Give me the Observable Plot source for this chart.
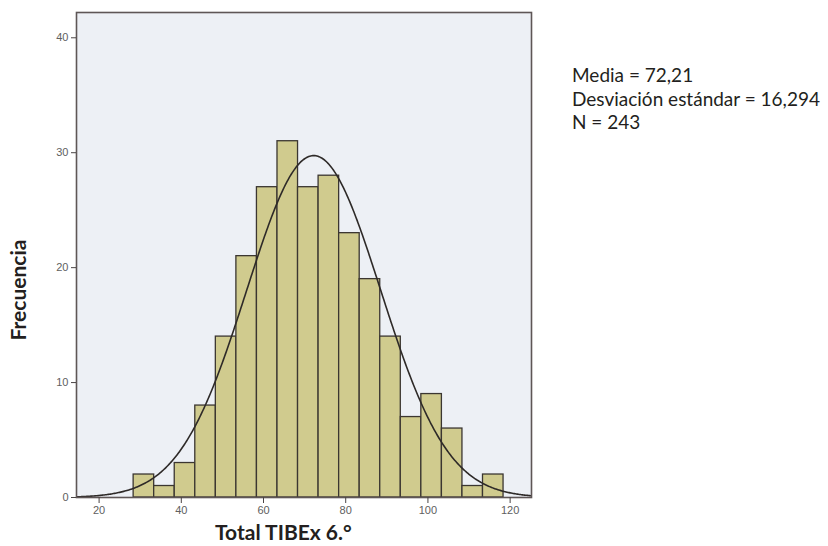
<!DOCTYPE html>
<html>
<head>
<meta charset="utf-8">
<script src="https://cdn.jsdelivr.net/npm/d3@7"></script>
<script src="https://cdn.jsdelivr.net/npm/@observablehq/plot@0.6"></script>
<style>
  html, body { margin: 0; padding: 0; background: #ffffff; }
  #wrap { position: relative; width: 828px; height: 546px; overflow: hidden; }
  #wrap svg { position: absolute; left: 0; top: 0; }
  .lab { position: absolute; font-family: Lato, "Open Sans", sans-serif; color: #231f20; white-space: nowrap; }
  #xlab { left: 215px; top: 519px; font-size: 21px; font-weight: 700; }
  #ylab { left: 17px; top: 290px; font-size: 21px; font-weight: 700; transform: translate(-50%, -50%) rotate(-90deg); }
  #legend { left: 572px; top: 63px; font-size: 19px; line-height: 23.5px; }
</style>
</head>
<body>
<div id="wrap"></div>
<script>
// Histogram bins (lower edges) and counts
const binLow = [28.4, 33.4, 38.4, 43.4, 48.4, 53.4, 58.4, 63.4, 68.4, 73.4, 78.4, 83.4, 88.4, 93.4, 98.4, 103.4, 108.4, 113.4];
const binWidth = 5;
const counts = [2, 1, 3, 8, 14, 21, 27, 31, 27, 28, 23, 19, 14, 7, 9, 6, 1, 2];
// Summary statistics shown in the legend
const statLabels = ["Media", "Desviación estándar", "N"];
const statText = ["72,21", "16,294", "243"];
const mean = 72.21, sd = 16.294, n = 243;
const xTicks = [20, 40, 60, 80, 100, 120];
const yTicks = [0, 10, 20, 30, 40];
const xDomain = [14.5, 125.2];
const yDomain = [0, 42.2];

const bins = binLow.map((lo, i) => ({x1: lo, x2: lo + binWidth, y: counts[i]}));
// Fitted normal curve (from the stated mean, sd and N, scaled to bin width)
const curve = d3.range(xDomain[0], xDomain[1] + 0.01, 0.25).map(x => ({
  x, y: n * binWidth * Math.exp(-0.5 * ((x - mean) / sd) ** 2) / (sd * Math.sqrt(2 * Math.PI))
}));

const chart = Plot.plot({
  width: 828,
  height: 546,
  marginLeft: 76,
  marginTop: 12,
  marginRight: 297,
  marginBottom: 49,
  style: {background: "transparent", fontFamily: "Arial, 'Liberation Sans', sans-serif"},
  x: {domain: xDomain},
  y: {domain: yDomain},
  marks: [
    Plot.frame({fill: "#edf0f5", stroke: null}),
    Plot.rectY(bins, {x1: "x1", x2: "x2", y: "y", fill: "#d0cb8e", stroke: "#3b3631", strokeWidth: 1.3, inset: 0}),
    Plot.line(curve, {x: "x", y: "y", stroke: "#2e2a28", strokeWidth: 1.6, clip: true}),
    Plot.frame({stroke: "#5e5656", strokeWidth: 1.6}),
    Plot.axisX({ticks: xTicks, tickSize: 6, tickPadding: 3, fontSize: 11, label: null, stroke: "#4a4444", color: "#606060"}),
    Plot.axisY({ticks: yTicks, tickSize: 5, tickPadding: 3, fontSize: 11, label: null, stroke: "#4a4444", color: "#606060"})
  ]
});

const wrap = document.getElementById("wrap");
wrap.appendChild(chart);

const xl = document.createElement("div");
xl.className = "lab"; xl.id = "xlab"; xl.textContent = "Total TIBEx 6.°";
wrap.appendChild(xl);
const yl = document.createElement("div");
yl.className = "lab"; yl.id = "ylab"; yl.textContent = "Frecuencia";
wrap.appendChild(yl);
const lg = document.createElement("div");
lg.className = "lab"; lg.id = "legend";
lg.innerHTML = statLabels.map((s, i) => `${s} = ${statText[i]}`).join("<br>");
wrap.appendChild(lg);
</script>
</body>
</html>
